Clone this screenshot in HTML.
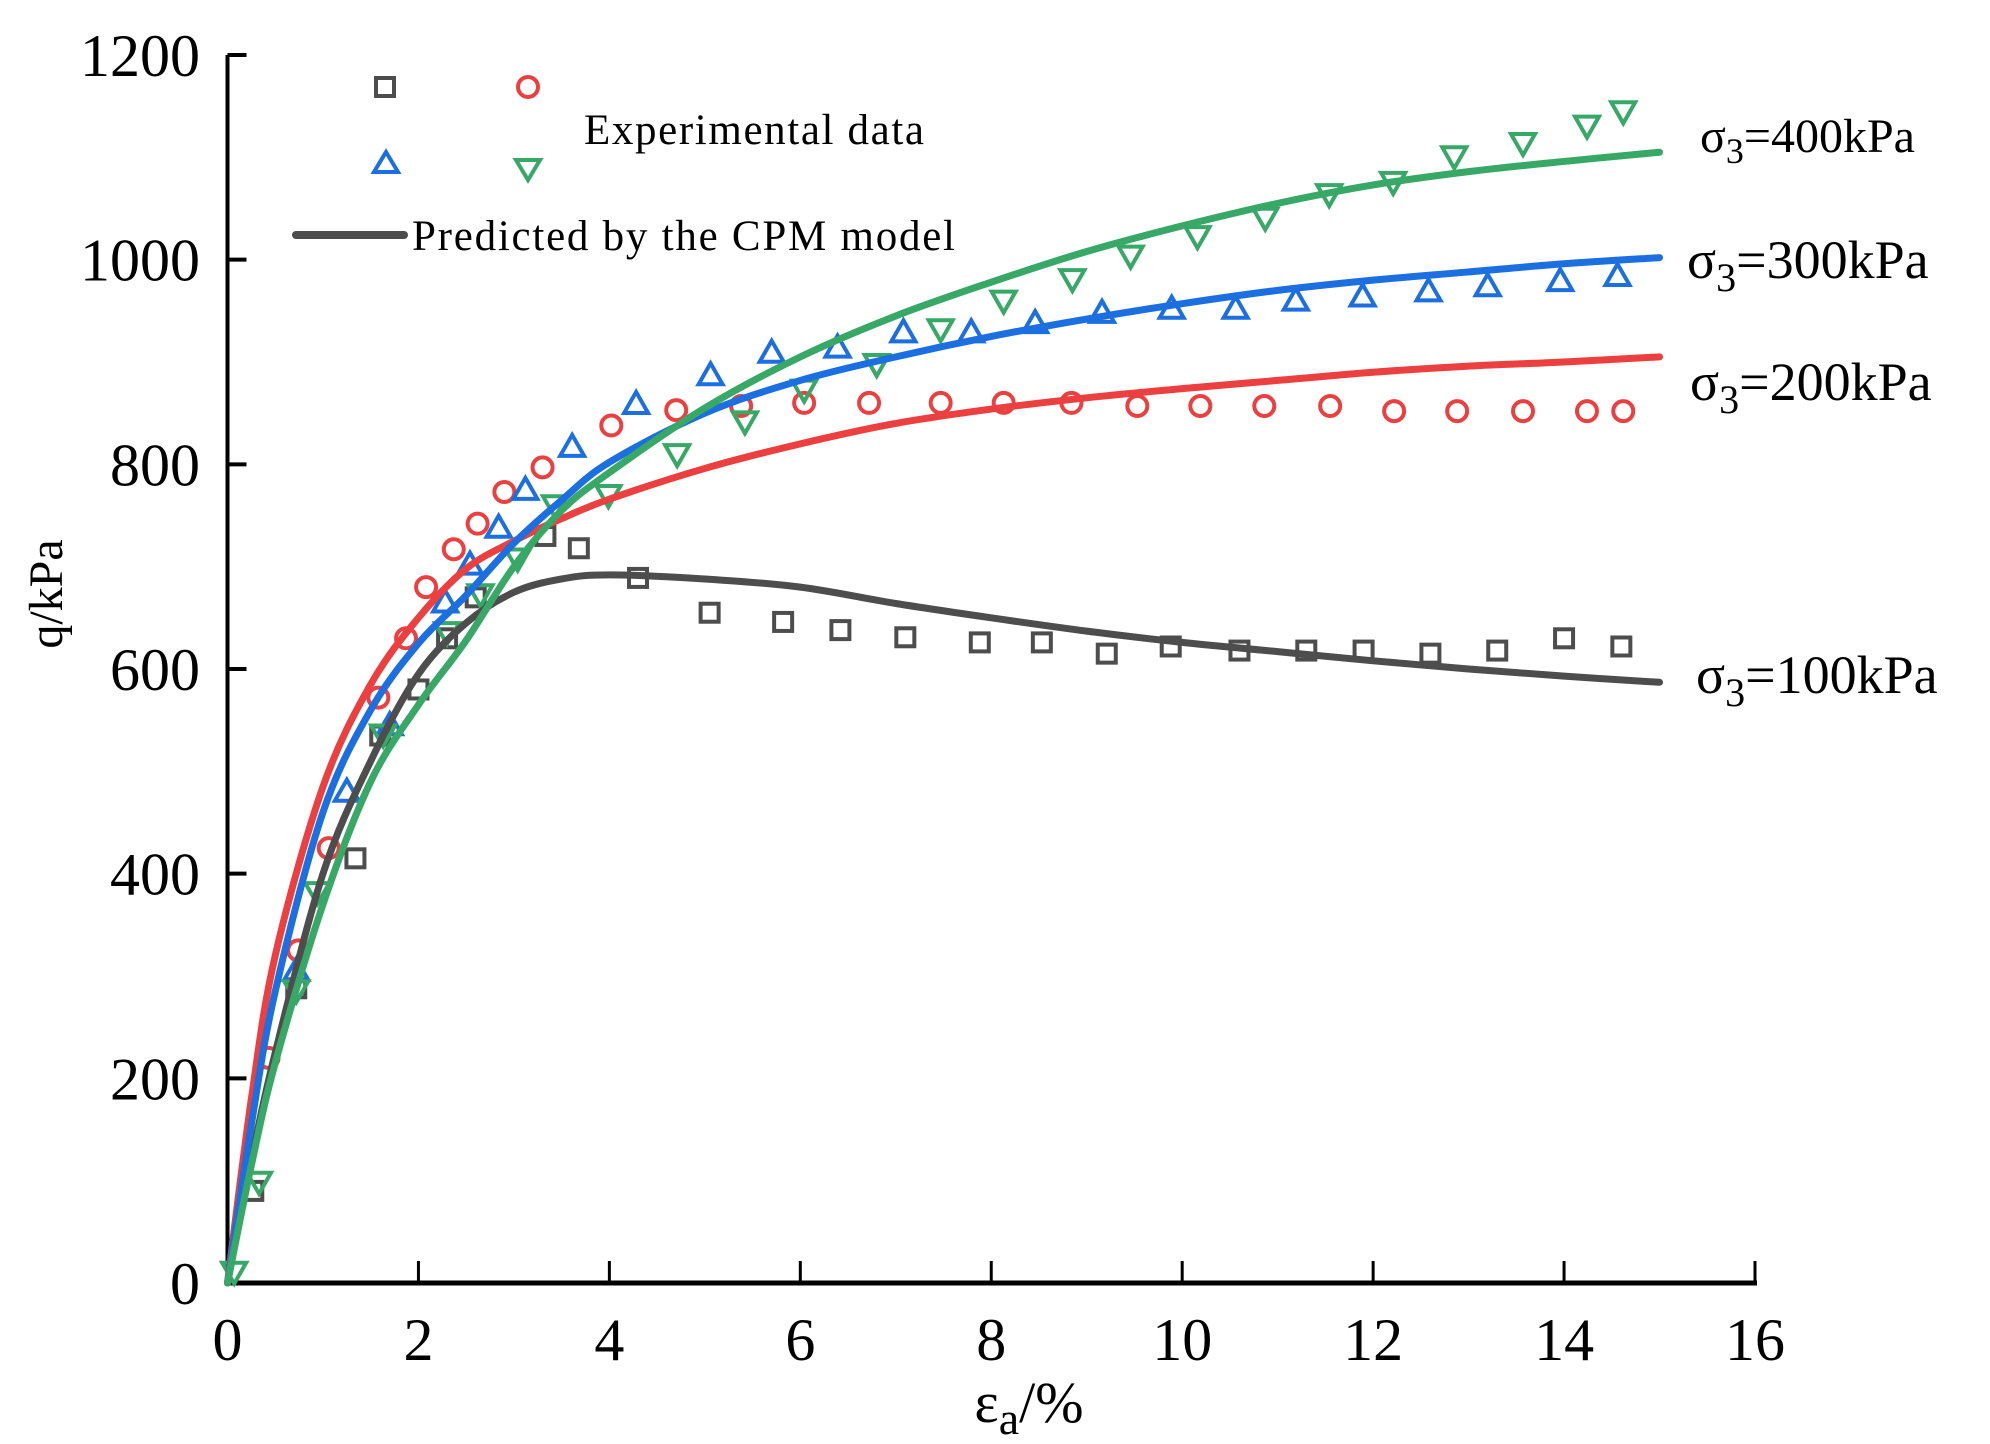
<!DOCTYPE html>
<html><head><meta charset="utf-8"><style>
html,body{margin:0;padding:0;background:#fff;}
svg{display:block;font-family:"Liberation Serif",serif;}
</style></head><body>
<svg id="chart" width="1990" height="1444" viewBox="0 0 1990 1444">
<g id="axes"></g>
<g id="series"></g>
<g>
  <rect x="376" y="78" width="18" height="18" fill="none" stroke="#4d4d4d" stroke-width="4"/>
  <circle cx="528" cy="87" r="10" fill="none" stroke="#ec3f3f" stroke-width="4"/>
  <polygon points="386,152 374,172 398,172" fill="none" stroke="#1b6fe0" stroke-width="4"/>
  <polygon points="516,160 540,160 528,180" fill="none" stroke="#37a866" stroke-width="4"/>
  <text x="584" y="144" font-size="43" textLength="340">Experimental data</text>
  <line x1="296" y1="235" x2="404" y2="235" stroke="#4d4d4d" stroke-width="8" stroke-linecap="round"/>
  <text x="412" y="250" font-size="43" textLength="543">Predicted by the CPM model</text>
</g>
<g font-size="54">
  <text x="1700" y="152" font-size="48">σ<tspan font-size="36" dy="11">3</tspan><tspan dy="-11">=400kPa</tspan></text>
  <text x="1687" y="278">σ<tspan font-size="40" dy="13">3</tspan><tspan dy="-13">=300kPa</tspan></text>
  <text x="1690" y="400">σ<tspan font-size="40" dy="13">3</tspan><tspan dy="-13">=200kPa</tspan></text>
  <text x="1696" y="693">σ<tspan font-size="40" dy="13">3</tspan><tspan dy="-13">=100kPa</tspan></text>
</g>
<text transform="translate(62,594) rotate(-90)" text-anchor="middle" font-size="48">q/kPa</text>
<text x="1029" y="1422" text-anchor="middle" font-size="58">ε<tspan font-size="46" dy="12">a</tspan><tspan dy="-12">/%</tspan></text>
</svg>
<script>
const xTicks=[0,2,4,6,8,10,12,14,16];
const yTicks=[0,200,400,600,800,1000,1200];
const colors=["#4d4d4d","#ec3f3f","#1b6fe0","#37a866"];
const seriesNames=["100kpa","200kpa","300kpa","400kpa"];
const markerShapes=["square","circle","triangle","down"];
const curveX=[0,0.25,0.5,1,1.5,2,2.5,3,3.5,4,5,6,7,8,9,10,11,12,13,14,15];
const curve100=[0,120,225,400,510,595,645,675,688,692,688,680,664,650,637,626,617,608,600,593,587];
const curve200=[0,180,320,485,585,650,698,725,747,766,796,820,840,854,865,874,882,890,896,900,905];
const curve300=[0,155,285,460,560,625,672,723,765,802,850,882,905,925,942,957,970,980,988,996,1002];
const curve400=[0,115,215,370,490,565,628,700,755,792,855,905,945,978,1008,1033,1055,1073,1086,1096,1105];
const exp100X=[0.27,0.72,1.34,1.6,2.0,2.3,2.6,3.33,3.68,4.3,5.05,5.82,6.42,7.1,7.88,8.53,9.21,9.88,10.6,11.3,11.9,12.6,13.3,14.0,14.6];
const exp100Y=[90,288,415,535,580,630,670,730,718,689,655,646,638,631,626,626,615,622,618,618,618,615,618,630,622];
const exp200X=[0.43,0.74,1.06,1.58,1.87,2.08,2.37,2.62,2.9,3.3,4.02,4.7,5.38,6.04,6.72,7.47,8.13,8.84,9.53,10.19,10.86,11.55,12.22,12.88,13.57,14.24,14.62];
const exp200Y=[220,325,425,572,630,680,717,742,773,797,838,853,857,860,860,860,860,860,857,857,857,857,852,852,852,852,852];
const exp300X=[0.72,1.25,1.7,2.28,2.54,2.84,3.12,3.61,4.28,5.06,5.7,6.39,7.08,7.79,8.46,9.16,9.89,10.56,11.19,11.89,12.58,13.2,13.96,14.56];
const exp300Y=[305,480,545,665,702,738,775,817,859,887,909,914,929,929,938,948,952,952,960,964,969,974,979,984];
const exp400X=[0.07,0.33,0.72,0.94,1.63,2.3,2.65,3.04,3.43,3.99,4.71,5.42,6.04,6.8,7.47,8.13,8.85,9.46,10.16,10.87,11.54,12.21,12.85,13.57,14.24,14.62];
const exp400Y=[11,99,286,382,536,636,673,708,760,770,810,842,873,898,932,960,981,1004,1023,1041,1064,1076,1101,1114,1131,1145];

const X0=227.5,X1=1755,Y0=1283,Y1=55;
const sx=v=>X0+(v-0)/(16-0)*(X1-X0);
const sy=v=>Y0-(v-0)/(1200-0)*(Y0-Y1);
const NS="http://www.w3.org/2000/svg";
function mk(tag,attrs,parent){const e=document.createElementNS(NS,tag);for(const k in attrs)e.setAttribute(k,attrs[k]);parent.appendChild(e);return e;}
const axes=document.getElementById('axes');
let e=mk('line',{x1:X0,y1:sy(1200),x2:X0,y2:Y0+2,stroke:'#000','stroke-width':4},axes);


e=mk('line',{x1:X0-2,y1:Y0,x2:X1+2,y2:Y0,stroke:'#000','stroke-width':5},axes);


xTicks.forEach(t=>{
  const x=sx(t);
  let tk=mk('line',{x1:x,y1:Y0,x2:x,y2:Y0-22,stroke:'#000','stroke-width':3},axes);
  
  
  let lb=mk('text',{x:x,y:1360,'text-anchor':'middle','font-size':60},axes);
  lb.textContent=t;
  
  
});
yTicks.forEach(t=>{
  const y=sy(t);
  let tk=mk('line',{x1:X0,y1:y,x2:X0+19,y2:y,stroke:'#000','stroke-width':4},axes);
  
  
  let lb=mk('text',{x:200,y:y+21,'text-anchor':'end','font-size':60},axes);
  lb.textContent=t;
  
  
});
function smoothPath(xs,ys){
  const p=xs.map((v,i)=>[sx(v),sy(ys[i])]);
  let d='M'+p[0][0]+','+p[0][1];
  for(let i=0;i<p.length-1;i++){
    const p0=p[i-1]||p[i],p1=p[i],p2=p[i+1],p3=p[i+2]||p2;
    const c1=[p1[0]+(p2[0]-p0[0])/6,p1[1]+(p2[1]-p0[1])/6];
    const c2=[p2[0]-(p3[0]-p1[0])/6,p2[1]-(p3[1]-p1[1])/6];
    d+=' C'+c1+' '+c2+' '+p2;
  }
  return d;
}
const ser=document.getElementById('series');
const expX=[exp100X,exp200X,exp300X,exp400X],expY=[exp100Y,exp200Y,exp300Y,exp400Y];
const curves=[curve100,curve200,curve300,curve400];
function marker(shape,x,y,c,g){
  let m;const s=10;
  if(shape==='square')m=mk('rect',{x:x-9,y:y-9,width:18,height:18,fill:'none',stroke:c,'stroke-width':4},g);
  else if(shape==='circle')m=mk('circle',{cx:x,cy:y,r:s,fill:'none',stroke:c,'stroke-width':4},g);
  else if(shape==='triangle')m=mk('polygon',{points:`${x},${y-12} ${x-12},${y+9} ${x+12},${y+9}`,fill:'none',stroke:c,'stroke-width':4},g);
  else m=mk('polygon',{points:`${x-12},${y-9} ${x+12},${y-9} ${x},${y+12}`,fill:'none',stroke:c,'stroke-width':4},g);
  return m;
}
for(let k=0;k<4;k++){
  const g=mk('g',{},ser);
  
  
  expX[k].forEach((v,i)=>{
    const m=marker(markerShapes[k],sx(v),sy(expY[k][i]),colors[k],g);
    
    
  });
}
for(let k=0;k<4;k++){
  const p=mk('path',{d:smoothPath(curveX,curves[k]),fill:'none',stroke:colors[k],'stroke-width':7,'stroke-linecap':'round','stroke-linejoin':'round'},ser);
  
  
}
</script>
</body></html>
